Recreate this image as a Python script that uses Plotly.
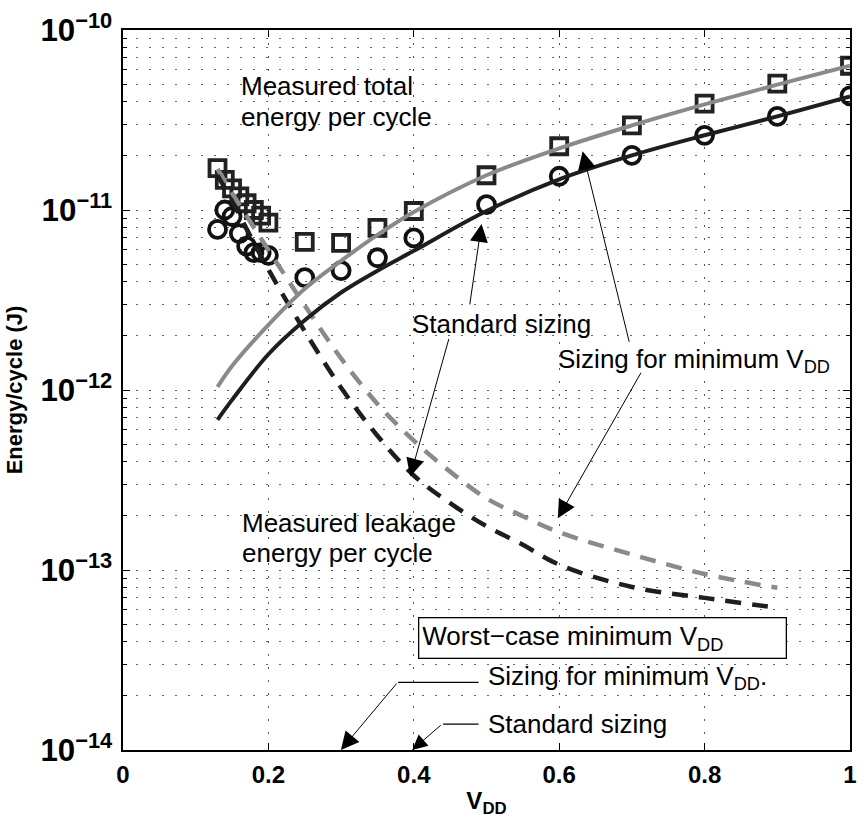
import plotly.graph_objects as go

# ---------------- data ----------------
vdd_meas = [0.13, 0.14, 0.15, 0.16, 0.17, 0.18, 0.19, 0.20, 0.25, 0.30, 0.35, 0.40,
            0.50, 0.60, 0.70, 0.80, 0.90, 1.00]
e_meas_minsize = [1.71e-11, 1.47e-11, 1.32e-11, 1.19e-11, 1.09e-11, 1.0e-11, 9.3e-12, 8.5e-12,
                  6.65e-12, 6.57e-12, 7.96e-12, 9.87e-12, 1.56e-11, 2.26e-11, 2.95e-11,
                  3.9e-11, 5.03e-11, 6.33e-11]
e_meas_std = [7.8e-12, 1.0e-11, 9.2e-12, 7.4e-12, 6.3e-12, 5.8e-12, 5.8e-12, 5.6e-12,
              4.21e-12, 4.6e-12, 5.43e-12, 7.0e-12, 1.07e-11, 1.54e-11, 2.01e-11,
              2.6e-11, 3.31e-11, 4.31e-11]

vdd_model = [0.13, 0.15, 0.20, 0.25, 0.30, 0.35, 0.40, 0.50, 0.60, 0.70, 0.80, 0.90, 1.00]
e_model_minsize = [1.04e-12, 1.36e-12, 2.30e-12, 3.65e-12, 5.22e-12, 7.27e-12, 9.75e-12,
                   1.56e-11, 2.20e-11, 2.95e-11, 3.86e-11, 4.97e-11, 6.33e-11]
e_model_std = [6.83e-13, 8.81e-13, 1.58e-12, 2.44e-12, 3.48e-12, 4.60e-12, 5.93e-12,
               9.87e-12, 1.48e-11, 2.01e-11, 2.60e-11, 3.31e-11, 4.27e-11]

vdd_leak = [0.13, 0.15, 0.175, 0.20, 0.25, 0.30, 0.35, 0.40, 0.45, 0.50, 0.55, 0.60,
            0.70, 0.80, 0.90]
e_leak_minsize = [1.69e-11, 1.24e-11, 8.6e-12, 6.0e-12, 2.95e-12, 1.50e-12, 8.37e-13,
                  5.23e-13, 3.52e-13, 2.50e-13, 1.99e-13, 1.62e-13, 1.22e-13, 9.5e-14, 7.96e-14]
e_leak_std = [1.56e-11, 1.12e-11, 7.18e-12, 4.67e-12, 2.12e-12, 1.03e-12, 5.57e-13,
              3.35e-13, 2.35e-13, 1.75e-13, 1.38e-13, 1.07e-13, 8.05e-14, 7.0e-14, 6.16e-14]

x_ticks = [0, 0.2, 0.4, 0.6, 0.8, 1]
x_ticklabels = ["0", "0.2", "0.4", "0.6", "0.8", "1"]

# ---------------- styling ----------------
W, H = 865, 829
L, R, T, B = 123, 857, 26, 750
LIGHT = "#8a8a8a"
DARK = "#1e1e1e"
FONT = "Liberation Sans"
TXT = 26
DASH = "16px,11px"


def P(xp, yp):
    """pixel -> paper coordinates"""
    return (xp - L) / (R - L), (B - yp) / (B - T)


fig = go.Figure()

# markers (under lines)
fig.add_trace(go.Scatter(x=vdd_meas, y=e_meas_minsize, mode="markers",
                         marker=dict(symbol="square-open", size=16, color="#222222",
                                     line=dict(width=3.8, color="#222222")),
                         showlegend=False))
fig.add_trace(go.Scatter(x=vdd_meas, y=e_meas_std, mode="markers",
                         marker=dict(symbol="circle-open", size=17, color="#111111",
                                     line=dict(width=3.8, color="#111111")),
                         showlegend=False))

# leakage (dashed)
fig.add_trace(go.Scatter(x=vdd_leak, y=e_leak_minsize, mode="lines",
                         line=dict(color=LIGHT, width=4.5, dash=DASH, shape="spline"),
                         showlegend=False))
fig.add_trace(go.Scatter(x=vdd_leak, y=e_leak_std, mode="lines",
                         line=dict(color=DARK, width=4.5, dash=DASH, shape="spline"),
                         showlegend=False))

# model total (solid)
fig.add_trace(go.Scatter(x=vdd_model, y=e_model_minsize, mode="lines",
                         line=dict(color=LIGHT, width=4, shape="spline"), showlegend=False))
fig.add_trace(go.Scatter(x=vdd_model, y=e_model_std, mode="lines",
                         line=dict(color=DARK, width=4, shape="spline"), showlegend=False))

ann = []


def text(xp, yp, s, anchor="left", **kw):
    px_, py_ = P(xp, yp)
    d = dict(x=px_, y=py_, xref="paper", yref="paper", text=s, showarrow=False,
             xanchor=anchor, yanchor="middle",
             font=dict(family=FONT, size=TXT, color="black"))
    d.update(kw)
    ann.append(d)


def arrow(tip, tail, size=3.6):
    tx, ty = P(*tip)
    ann.append(dict(x=tx, y=ty, xref="paper", yref="paper", text="",
                    showarrow=True, arrowhead=2, arrowsize=size, arrowwidth=1.0,
                    arrowcolor="black", ax=tail[0] - tip[0], ay=tail[1] - tip[1],
                    standoff=0))


def seg(p0, p1):
    tx, ty = P(*p1)
    ann.append(dict(x=tx, y=ty, xref="paper", yref="paper", text="",
                    showarrow=True, arrowhead=0, arrowwidth=1.2, arrowcolor="black",
                    ax=p0[0] - p1[0], ay=p0[1] - p1[1], standoff=0))


text(240, 82, "Measured total")
text(240, 113, "energy per cycle")
text(241, 522, "Measured leakage")
text(241, 552, "energy per cycle")
text(413, 322, "Standard sizing")
text(560, 358, "Sizing for minimum V<sub>DD</sub>")
text(489, 677, "Sizing for minimum V<sub>DD</sub>.")
text(489, 724, "Standard sizing")

# boxed label
bx, by = P(607, 637)
ann.append(dict(x=bx, y=by, xref="paper", yref="paper",
                text="Worst\u2212case minimum V<sub>DD</sub>", showarrow=False,
                xanchor="center", yanchor="middle", align="left", width=360, height=33,
                bordercolor="black", borderwidth=1.3, borderpad=3, bgcolor="white",
                font=dict(family=FONT, size=TXT, color="black")))

# arrows
arrow((485, 221), (473, 303))
arrow((413, 475), (452, 336))
arrow((587, 148), (634, 340))
arrow((562, 517), (646, 370))
arrow((343, 750), (400, 682))
seg((400, 682), (482, 682))
arrow((415, 750), (445, 724), size=3.0)
seg((445, 724), (482, 724))

grid_dash = "2px,11px"
fig.update_layout(
    width=W, height=H,
    margin=dict(l=L, r=W - R, t=T, b=H - B, pad=0),
    plot_bgcolor="white", paper_bgcolor="white",
    annotations=ann,
    font=dict(family=FONT, color="black"),
    xaxis=dict(range=[0, 1], tickvals=x_ticks, ticktext=x_ticklabels,
               ticks="inside", ticklen=7, tickwidth=1, tickcolor="black",
               showline=True, linecolor="black", linewidth=1.5, mirror="ticks",
               showgrid=True, gridcolor="#555555", gridwidth=1, griddash=grid_dash,
               zeroline=False, ticklabelstandoff=2,
               tickfont=dict(family=FONT, size=24, color="black", weight="bold"),
               title=dict(text="V<sub>DD</sub>", standoff=6,
                          font=dict(family=FONT, size=24, color="black", weight="bold"))),
    yaxis=dict(type="log", range=[-14, -10], dtick=1, exponentformat="power",
               ticks="inside", ticklen=7, tickwidth=1, tickcolor="black",
               showline=True, linecolor="black", linewidth=1.5, mirror="ticks",
               showgrid=True, gridcolor="#555555", gridwidth=1, griddash=grid_dash,
               zeroline=False, ticklabelstandoff=4,
               minor=dict(ticks="inside", ticklen=4, tickcolor="black", dtick="D1",
                          showgrid=True, gridcolor="#666666", gridwidth=1, griddash=grid_dash),
               tickfont=dict(family=FONT, size=25, color="black", weight="bold"),
               title=dict(text="Energy/cycle (J)", standoff=12,
                          font=dict(family=FONT, size=22, color="black", weight="bold"))),
)

fig.write_html("out.html")
